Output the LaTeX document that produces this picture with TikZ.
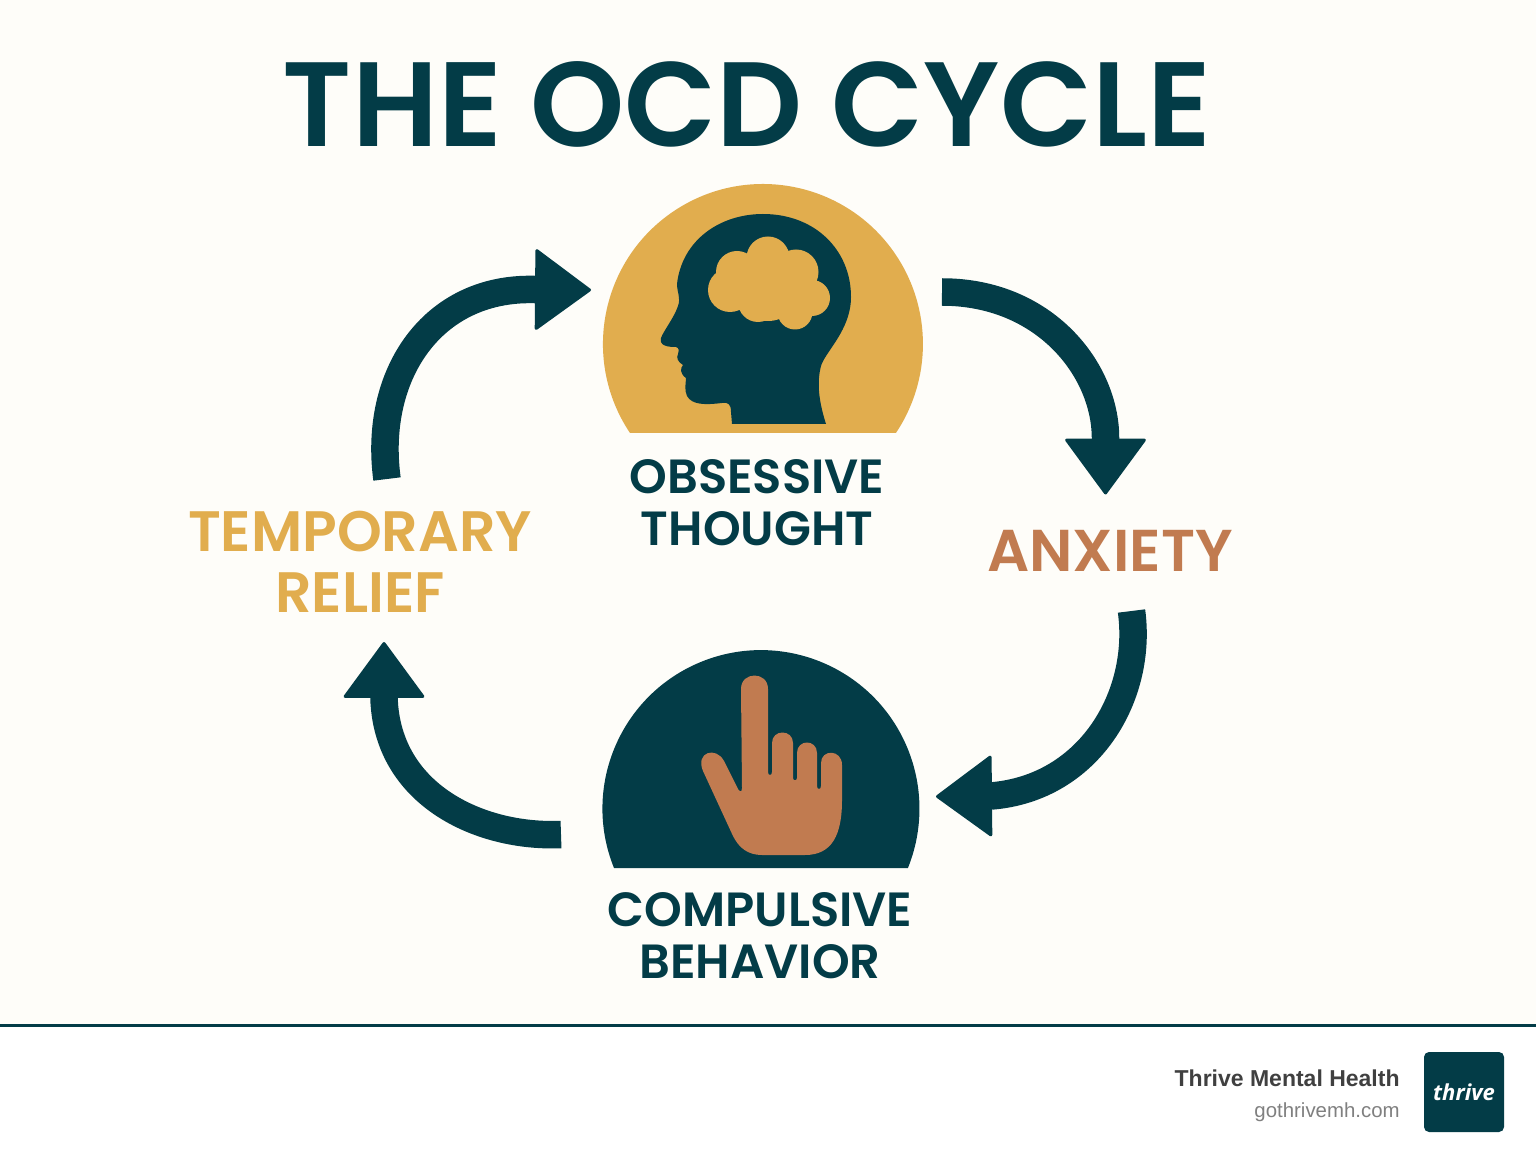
\documentclass[tikz,border=0pt]{standalone}
\usepackage{fontspec}
\setmainfont{Poppins SemiBold}
\newfontfamily\footfont{Liberation Sans}
\newfontfamily\logofont{Open Sans}
\usetikzlibrary{arrows.meta}
\definecolor{ocdteal}{HTML}{033C47}
\definecolor{ocdgold}{HTML}{E1AD4E}
\definecolor{ocdcopper}{HTML}{C17B50}
\definecolor{ocdpaper}{HTML}{FEFDF9}
\tikzset{
  cyclearrow/.style={draw=ocdteal, line width=13.75pt, -{Triangle[length=28.5pt, width=41.5pt, round, line width=1.5pt]}},
  steplabel/.style={inner sep=0pt, align=center, font=\fontsize{24}{26}\selectfont, text=ocdteal},
}
\begin{document}
\begin{tikzpicture}[x=0.5pt, y=-0.5pt]
    \useasboundingbox (0,0) rectangle (1536,1154);
    \fill[ocdpaper] (0,0) rectangle (1536,1025);
    \fill[white] (0,1025) rectangle (1536,1154);
    \draw[ocdteal, line width=1.5pt] (0,1025) -- (1536,1025);
    % heading
    \node[anchor=base, inner sep=0pt, text=ocdteal, font=\fontsize{60}{70}\selectfont] (title) at (747,147) {THE OCD CYCLE};
    % top dome with head
    \fill[ocdgold] (630,433) arc[start angle=146.2, end angle=393.8, radius=160] -- cycle;
    \fill[ocdteal] (732,424) -- (731,412) .. controls (731,404) and (728,402) .. (722,403)
        .. controls (705,405) and (692,405) .. (687,396) .. controls (684,390) and (686,382) .. (686,378)
        .. controls (680,374) and (680,368) .. (683,365) .. controls (678,362) and (676,358) .. (678,354)
        .. controls (679,350) and (679,348) .. (676,347) .. controls (668,347) and (659,346) .. (661,338)
        .. controls (664,330) and (674,318) .. (678,306) .. controls (681,298) and (677,292) .. (677,284)
        .. controls (682,240) and (720,214) .. (763,214) .. controls (815,214) and (851,250) .. (851,297)
        .. controls (851,330) and (825,352) .. (821,366) .. controls (816,385) and (820,405) .. (826,424) -- cycle;
    \fill[ocdgold] (730,290) circle[radius=22] (737,272) circle[radius=21] (768,258) circle[radius=21.5]
        (796,272) circle[radius=22.5] (812,298) circle[radius=18] (795,312) circle[radius=17.5]
        (758,302) circle[radius=20] (768,288) circle[radius=33];
    % bottom dome with hand
    \fill[ocdteal] (614,868) arc[start angle=158, end angle=382, radius=158.5] -- cycle;
    \fill[ocdcopper] (741,689) .. controls (741,671) and (768,671) .. (768,689) -- (768,772)
        .. controls (768,776) and (772,776) .. (772,772) -- (772,743) .. controls (772,729) and (793,729) .. (793,743)
        -- (793,778) .. controls (793,781) and (797,781) .. (797,778) -- (797,753) .. controls (797,739) and (817,739) .. (817,753)
        -- (817,786) .. controls (817,790) and (821,790) .. (821,786) -- (821,763) .. controls (821,749) and (842,749) .. (842,765)
        -- (842,800) .. controls (842,835) and (832,855) .. (805,855) -- (762,855) .. controls (748,855) and (739,848) .. (733,836)
        -- (703,771) .. controls (695,752) and (716,746) .. (724,761) -- (737,787) .. controls (739,792) and (742,793) .. (742,788) -- cycle;
    % step names
    \node[steplabel] (obsessive) at (757,503) {OBSESSIVE\\THOUGHT};
    \node[steplabel] (compulsive) at (760,936) {COMPULSIVE\\BEHAVIOR};
    \node[inner sep=0pt, text=ocdcopper, font=\fontsize{29.5}{33}\selectfont] (anxiety) at (1110,551) {ANXIETY};
    \node[inner sep=0pt, align=center, text=ocdgold, font=\fontsize{28.5}{30.5}\selectfont] (relief) at (360,562) {TEMPORARY\\RELIEF};
    % arrows
    \coordinate (topright) at (942,292);
    \coordinate (anxietytip) at (1105.5,494.5);
    \coordinate (lowright) at (1131.5,611);
    \coordinate (handtip) at (936,796.5);
    \coordinate (lowleft) at (561,834.5);
    \coordinate (relieftip) at (384,642);
    \coordinate (topleft) at (387,479);
    \coordinate (headtip) at (591,290);
    \draw[cyclearrow] (topright) .. controls (1045,292) and (1105.5,370) .. (1105.5,438) -- (anxietytip);
    \draw[cyclearrow] (lowright) .. controls (1143,695) and (1090,788) .. (991,796) -- (handtip);
    \draw[cyclearrow] (lowleft) .. controls (480,838) and (387,795) .. (384,698) -- (relieftip);
    \draw[cyclearrow] (topleft) .. controls (373,375) and (432,287) .. (534,289.5) -- (headtip);
    % footer
    \node[anchor=base east, inner sep=0pt, text=black!75, font=\footfont\bfseries\fontsize{11.5}{14}\selectfont] (brand) at (1400,1086) {Thrive Mental Health};
    \node[anchor=base east, inner sep=0pt, text=black!50, font=\footfont\fontsize{10.2}{12}\selectfont] (site) at (1400,1117) {gothrivemh.com};
    \node[fill=ocdteal, rounded corners=2.5pt, minimum size=40pt, inner sep=0pt, text=white, font=\logofont\bfseries\itshape\fontsize{11}{13}\selectfont] (logo) at (1464,1092) {thrive};
\end{tikzpicture}
\end{document}
